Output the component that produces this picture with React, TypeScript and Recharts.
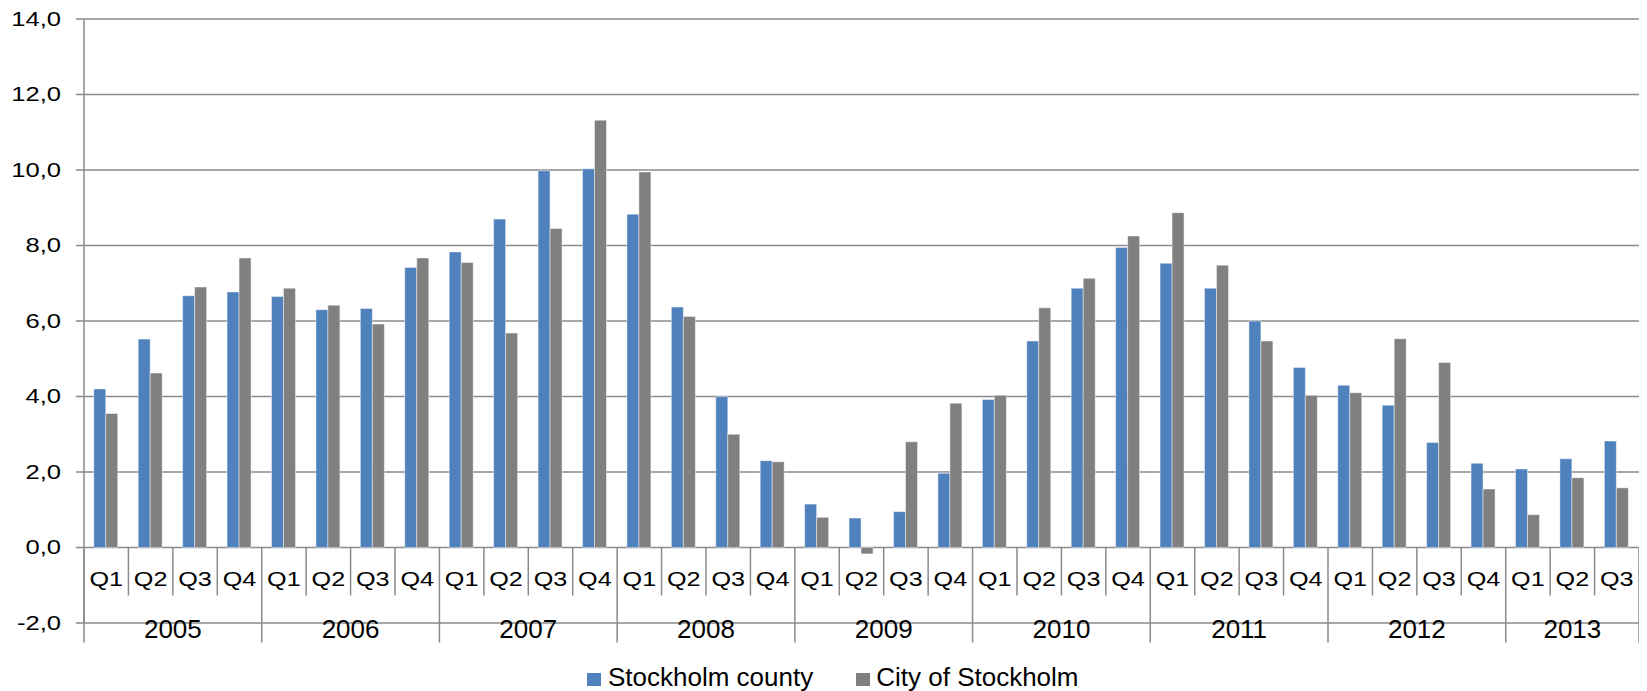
import React from 'react';
import { BarChart, Bar, XAxis, YAxis, CartesianGrid, Legend } from 'recharts';

const years = ['2005', '2006', '2007', '2008', '2009', '2010', '2011', '2012', '2013'];
const quarters = ['Q1', 'Q2', 'Q3', 'Q4'];
const quartersPerYear = [4, 4, 4, 4, 4, 4, 4, 4, 3];

const countyValues = [
  4.2, 5.52, 6.67, 6.77,
  6.65, 6.3, 6.33, 7.42,
  7.83, 8.7, 9.98, 10.03,
  8.83, 6.37, 4.0, 2.3,
  1.15, 0.78, 0.95, 1.97,
  3.92, 5.47, 6.87, 7.95,
  7.53, 6.87, 6.0, 4.77,
  4.3, 3.77, 2.78, 2.23,
  2.08, 2.35, 2.82,
];

const cityValues = [
  3.55, 4.62, 6.9, 7.67,
  6.87, 6.42, 5.92, 7.67,
  7.55, 5.68, 8.45, 11.32,
  9.95, 6.12, 3.0, 2.27,
  0.8, -0.17, 2.8, 3.82,
  4.03, 6.35, 7.13, 8.25,
  8.87, 7.48, 5.47, 4.03,
  4.1, 5.53, 4.9, 1.55,
  0.87, 1.85, 1.58,
];

const yTicks = [-2, 0, 2, 4, 6, 8, 10, 12, 14];

const data = years
  .flatMap((year, i) => quarters.slice(0, quartersPerYear[i]).map((q) => ({ year, q, first: q === 'Q1', count: quartersPerYear[i] })))
  .map((row, i) => ({ ...row, county: countyValues[i], city: cityValues[i] }));

const CHART_W = 1631;
const CHART_H = 683;
const PLOT_TOP = 11;
const PLOT_BOTTOM = 615;
const Y_AXIS_W = 76;
const X_AXIS_H = 20;
const Y_MIN = -2;
const Y_MAX = 14;
const ZERO_Y = PLOT_TOP + ((Y_MAX - 0) / (Y_MAX - Y_MIN)) * (PLOT_BOTTOM - PLOT_TOP);
const STEP = (CHART_W - Y_AXIS_W) / data.length;

const FONT = 'Liberation Sans, Arial, sans-serif';
const LINE = '#8a8a8a';
const BLUE = '#4F81BD';
const GRAY = '#808080';

const YTick = (props: any) => {
  const { x, y, payload } = props;
  const label = Number(payload.value).toFixed(1).replace('.', ',');
  return (
    <g transform={`translate(${x},${y})`}>
      <text transform="scale(1.28,1)" textAnchor="end" dominantBaseline="central" fontSize={20} fontFamily={FONT} fill="#000">
        {label}
      </text>
    </g>
  );
};

const CategoryTick = (props: any) => {
  const { x, index } = props;
  const row = data[index];
  if (!row) return null;
  const left = x - STEP / 2;
  return (
    <g>
      <line x1={left} x2={left} y1={ZERO_Y} y2={ZERO_Y + (row.first ? 95 : 48)} stroke={LINE} strokeWidth={1.5} />
      {index === data.length - 1 && (
        <line x1={x + STEP / 2} x2={x + STEP / 2} y1={ZERO_Y} y2={ZERO_Y + 95} stroke={LINE} strokeWidth={1.5} />
      )}
      <g transform={`translate(${x},${ZERO_Y + 31})`}>
        <text transform="scale(1.2,1)" textAnchor="middle" dominantBaseline="central" fontSize={21} fontFamily={FONT} fill="#000">
          {row.q}
        </text>
      </g>
      {row.first && (
        <text x={left + (row.count * STEP) / 2} y={ZERO_Y + 81} textAnchor="middle" dominantBaseline="central" fontSize={26} fontFamily={FONT} fill="#000">
          {row.year}
        </text>
      )}
    </g>
  );
};

const LegendContent = () => (
  <div style={{ display: 'flex', alignItems: 'center', paddingLeft: 579, fontFamily: FONT, fontSize: 26, lineHeight: '28px', color: '#000' }}>
    <span style={{ width: 14, height: 13, background: BLUE, marginTop: 5, marginRight: 7 }} />
    <span>Stockholm county</span>
    <span style={{ width: 14, height: 13, background: GRAY, marginTop: 5, marginLeft: 43, marginRight: 6 }} />
    <span>City of Stockholm</span>
  </div>
);

export default function App() {
  return (
    <div style={{ width: CHART_W, height: CHART_H }}>
      <BarChart
        width={CHART_W}
        height={CHART_H}
        data={data}
        margin={{ top: PLOT_TOP, right: 0, bottom: CHART_H - PLOT_BOTTOM - X_AXIS_H, left: 0 }}
        barCategoryGap="22%"
        barGap={0}
      >
        <CartesianGrid vertical={false} stroke={LINE} strokeWidth={1.5} />
        <YAxis
          width={Y_AXIS_W}
          domain={[Y_MIN, Y_MAX]}
          ticks={yTicks}
          interval={0}
          tickSize={8}
          tickMargin={15}
          tick={<YTick />}
          axisLine={{ stroke: LINE, strokeWidth: 1.5 }}
          tickLine={{ stroke: LINE, strokeWidth: 1.5 }}
        />
        <XAxis
          dataKey="q"
          height={X_AXIS_H}
          interval={0}
          tickSize={0}
          tickMargin={0}
          axisLine={false}
          tickLine={false}
          tick={<CategoryTick />}
        />
        <Legend
          layout="horizontal"
          verticalAlign="middle"
          align="center"
          content={<LegendContent />}
          wrapperStyle={{ top: 655, left: 0, width: CHART_W, height: 28 }}
        />
        <Bar dataKey="county" name="Stockholm county" fill={BLUE} stroke="rgba(255,255,255,0.45)" strokeWidth={1} isAnimationActive={false} />
        <Bar dataKey="city" name="City of Stockholm" fill={GRAY} stroke="rgba(255,255,255,0.45)" strokeWidth={1} isAnimationActive={false} />
      </BarChart>
    </div>
  );
}
